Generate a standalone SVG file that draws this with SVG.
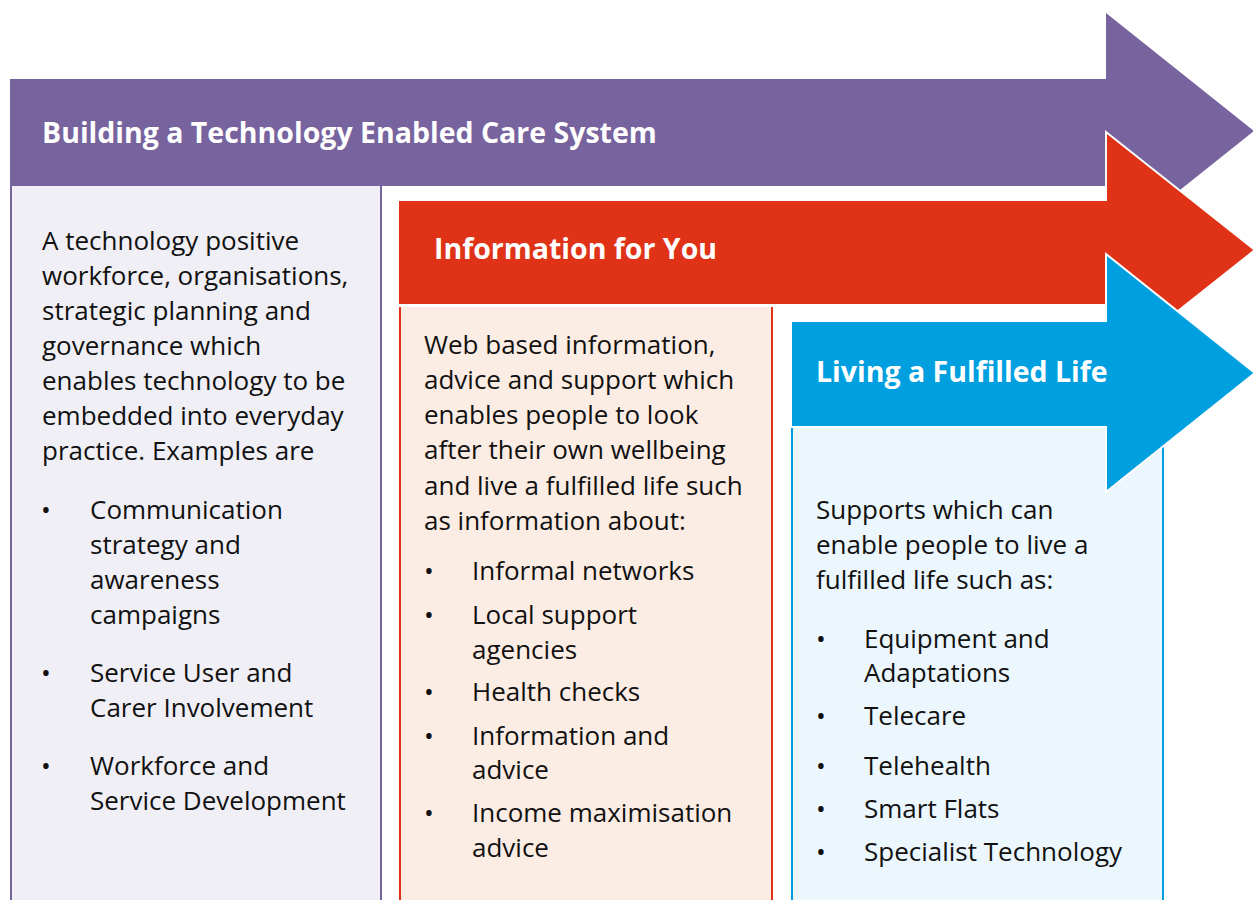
<svg xmlns="http://www.w3.org/2000/svg" width="1253" height="900" viewBox="0 0 1253 900">
<style>
.body{font-family:"Open Sans","Liberation Sans",sans-serif;font-size:26px;fill:#111}
.head{font-family:"Open Sans","Liberation Sans",sans-serif;font-size:28.5px;font-weight:bold;fill:#fff}
.edge{stroke-width:2;fill:none}
</style>
<rect width="1253" height="900" fill="#fff"/>
<g id="col-purple">
<rect x="11" y="186" width="370" height="730" fill="#f0eff6"/>
<path class="edge" d="M11,186V900M381,186V900" stroke="#77639e"/>
</g>
<g id="arrow-purple">
<polygon points="10,79 1106,79 1106,13 1254,131 1106,249 1106,186 10,186" fill="#77639e"/>
<text class="head" x="42" y="143">Building a Technology Enabled Care System</text>
</g>
<g id="col-red">
<rect x="400" y="307" width="372" height="610" fill="#fcede4"/>
<path class="edge" d="M400,307V900M772,307V900" stroke="#e03216"/>
</g>
<g id="arrow-red">
<polygon points="398,200 1106,200 1106,132 1255,250 1106,368 1106,305 398,305" fill="#e03216" stroke="#fff" stroke-width="2"/>
<text class="head" x="434" y="259">Information for You</text>
</g>
<g id="col-blue">
<rect x="792" y="428" width="371" height="490" fill="#ebf6fd"/>
<path class="edge" d="M792,428V900M1163,428V900" stroke="#00a0e0"/>
</g>
<g id="arrow-blue">
<polygon points="791,321 1106,321 1106,254 1255,373 1106,492 1106,427 791,427" fill="#00a0e0" stroke="#fff" stroke-width="2"/>
<text class="head" x="816" y="382">Living a Fulfilled Life</text>
</g>
<g id="text-purple" class="body">
<text x="42" y="250">A technology positive</text>
<text x="42" y="285">workforce, organisations,</text>
<text x="42" y="320">strategic planning and</text>
<text x="42" y="355">governance which</text>
<text x="42" y="390">enables technology to be</text>
<text x="42" y="425">embedded into everyday</text>
<text x="42" y="460">practice. Examples are</text>
<text x="41" y="519">•</text><text x="90" y="519">Communication</text>
<text x="90" y="554">strategy and</text>
<text x="90" y="589">awareness</text>
<text x="90" y="624">campaigns</text>
<text x="41" y="682">•</text><text x="90" y="682">Service User and</text>
<text x="90" y="717">Carer Involvement</text>
<text x="41" y="775">•</text><text x="90" y="775">Workforce and</text>
<text x="90" y="810">Service Development</text>
</g>
<g id="text-red" class="body">
<text x="424" y="354">Web based information,</text>
<text x="424" y="389">advice and support which</text>
<text x="424" y="424">enables people to look</text>
<text x="424" y="459">after their own wellbeing</text>
<text x="424" y="495">and live a fulfilled life such</text>
<text x="424" y="530">as information about:</text>
<text x="424" y="580">•</text><text x="472" y="580">Informal networks</text>
<text x="424" y="624">•</text><text x="472" y="624">Local support</text>
<text x="472" y="659">agencies</text>
<text x="424" y="701">•</text><text x="472" y="701">Health checks</text>
<text x="424" y="745">•</text><text x="472" y="745">Information and</text>
<text x="472" y="779">advice</text>
<text x="424" y="822">•</text><text x="472" y="822">Income maximisation</text>
<text x="472" y="857">advice</text>
</g>
<g id="text-blue" class="body">
<text x="816" y="519">Supports which can</text>
<text x="816" y="554">enable people to live a</text>
<text x="816" y="589">fulfilled life such as:</text>
<text x="816" y="648">•</text><text x="864" y="648">Equipment and</text>
<text x="864" y="682">Adaptations</text>
<text x="816" y="725">•</text><text x="864" y="725">Telecare</text>
<text x="816" y="775">•</text><text x="864" y="775">Telehealth</text>
<text x="816" y="818">•</text><text x="864" y="818">Smart Flats</text>
<text x="816" y="861">•</text><text x="864" y="861">Specialist Technology</text>
</g>
</svg>
